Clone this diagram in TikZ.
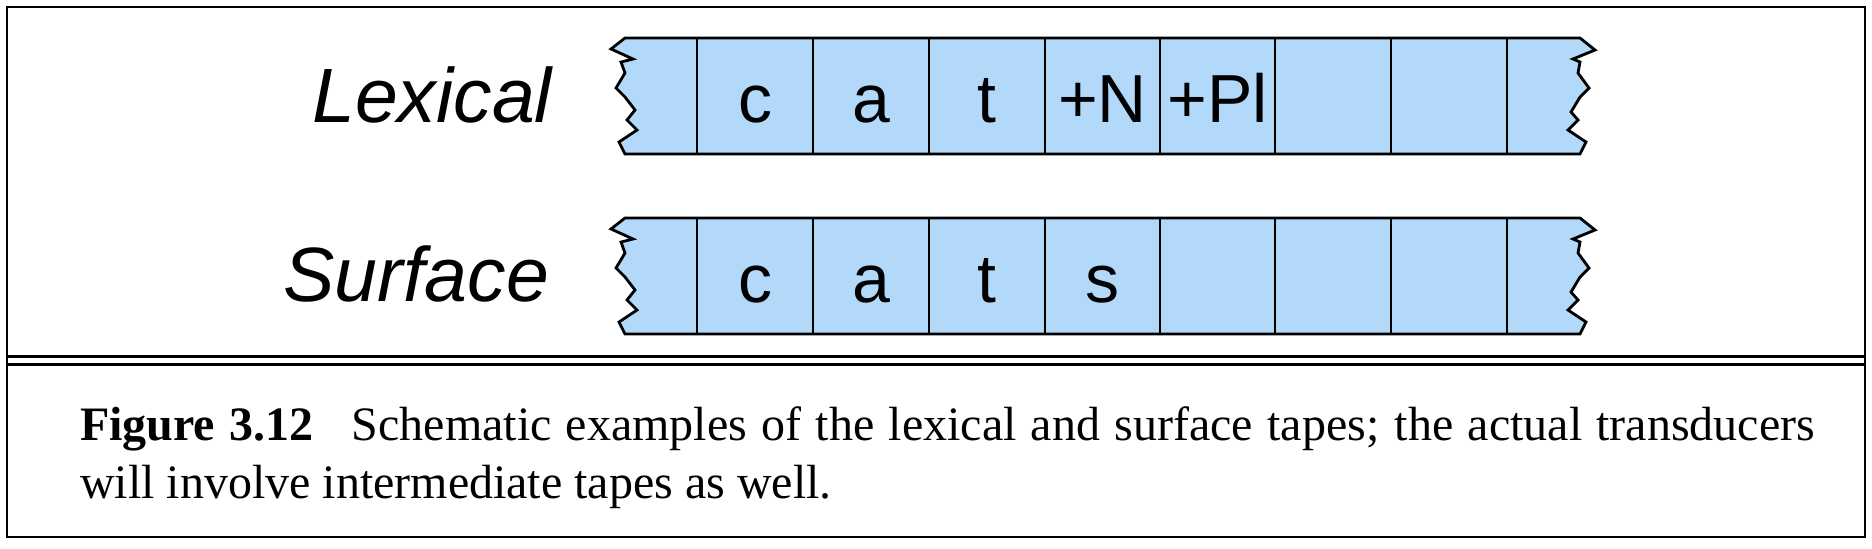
\documentclass[tikz,border=0pt]{standalone}
\usepackage{fontspec}
\setmainfont{Liberation Serif}
\newfontfamily\lblfont{Liberation Sans}
\definecolor{tapeblue}{RGB}{178,216,250}
\tikzset{
  tapeline/.style={draw=black, line width=1.4pt, line join=miter},
  divider/.style={draw=black, line width=1.3pt},
  frameline/.style={draw=black, line width=1.4pt},
  sepline/.style={draw=black, line width=1.1pt},
  celltext/.style={anchor=base, inner sep=0pt, outer sep=0pt, font=\lblfont\fontsize{34}{36}\selectfont},
  tapelabel/.style={anchor=base east, inner sep=0pt, outer sep=0pt, font=\lblfont\itshape\fontsize{38.5}{40}\selectfont},
  captext/.style={anchor=base west, inner sep=0pt, outer sep=0pt, text width=867.5pt, align=justify, font=\fontsize{24}{29}\selectfont}
}
\newcommand{\drawtape}[1]{%
  \begin{scope}[yshift=-#1*0.5pt]
    \path[tapeline, fill=tapeblue]
      (625,0) -- (1580,0) -- (1595,12) -- (1573,21) -- (1580,24) -- (1578,35) -- (1589,50) -- (1580,59) -- (1571,74) -- (1578,82) -- (1568,92) -- (1586,104) -- (1580,116)
      -- (625,116) -- (619,104) -- (637,92) -- (627,82) -- (635,72) -- (625,59) -- (616,50) -- (625,35) -- (621,24) -- (633,21) -- (611,11) -- cycle;
    \foreach \xx in {697,813,929,1045,1160,1275,1391,1507}
      \draw[divider] (\xx,0) -- (\xx,116);
  \end{scope}}
\begin{document}
\begin{tikzpicture}[x=0.5pt, y=-0.5pt]
  \useasboundingbox (0,0) rectangle (1872,548);
  % frame
  \draw[frameline] (7,7) rectangle (1865,537);
  \draw[sepline] (7,356.5) -- (1865,356.5);
  \draw[sepline] (7,364.5) -- (1865,364.5);
  % tapes
  \drawtape{38}
  \drawtape{218}
  % labels
  \node[tapelabel] (lex) at (552,122) {Lexical};
  \node[tapelabel] (surf) at (549,301) {Surface};
  % lexical cells
  \node[celltext] (l1) at (755,122) {c};
  \node[celltext] (l2) at (871,122) {a};
  \node[celltext] (l3) at (987,122) {t};
  \node[celltext] (l4) at (1102.5,122) {+N};
  \node[celltext] (l5) at (1217.5,122) {+Pl};
  % surface cells
  \node[celltext] (s1) at (755,302) {c};
  \node[celltext] (s2) at (871,302) {a};
  \node[celltext] (s3) at (987,302) {t};
  \node[celltext] (s4) at (1102.5,302) {s};
  % caption
  \node[captext] (cap) at (80,440) {\textbf{Figure 3.12}\hspace{0.8em}Schematic examples of the lexical and surface tapes; the actual transducers\linebreak will involve intermediate tapes as well.};
\end{tikzpicture}
\end{document}
